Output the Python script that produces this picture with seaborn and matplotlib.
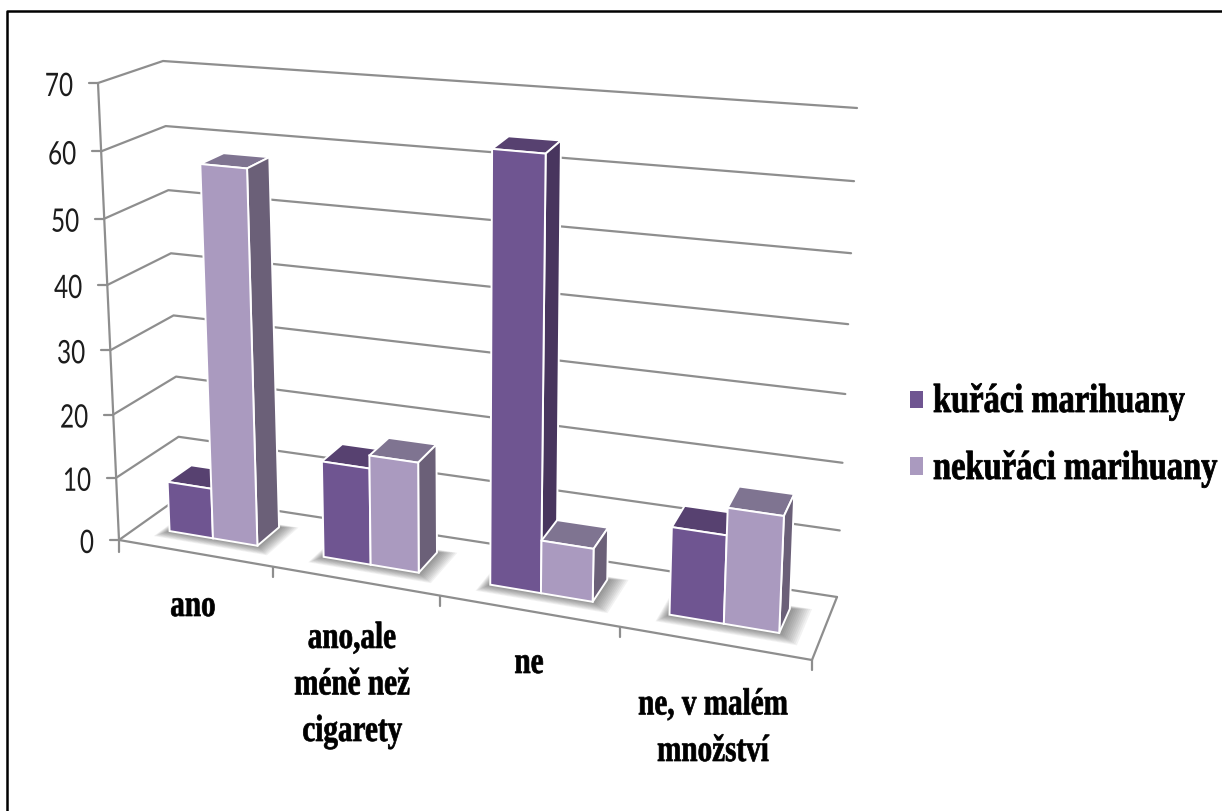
import numpy as np
import pandas as pd
import matplotlib
matplotlib.use("Agg")
import matplotlib.pyplot as plt
import seaborn as sns
from matplotlib.lines import Line2D
from matplotlib.patches import Polygon, Rectangle
from matplotlib.patheffects import AbstractPathEffect
from matplotlib.transforms import Affine2D, IdentityTransform, Transform

# Survey shares in percent
categories = ["ano", "ano,ale\nméně než\ncigarety", "ne", "ne, v malém\nmnožství"]
series_names = ["kuřáci marihuany", "nekuřáci marihuany"]
smokers = [8, 15, 64, 13]
non_smokers = [58, 17, 8, 17]
y_ticks = [0, 10, 20, 30, 40, 50, 60, 70]

FRONT_COLORS = ["#6F5591", "#AA9ABF"]
SIDE_COLORS = ["#48355E", "#6B6078"]
TOP_COLORS = ["#574170", "#7F7491"]
GRID = "#8E8E8E"

W, H = 1222, 812
VMAX = 70.0
N_CAT = len(categories)
GROUP_WIDTH = 0.58

# Corners of the chart box in pixels, keyed (right, top, back)
CORNERS = np.array([
    [[[119, 541], [181, 497]], [[98, 84], [163, 62]]],
    [[[812, 661], [837, 598]], [[836, 147], [857, 109]]],
], dtype=float)
K_U, K_V = 0.148, 0.055
W_FRONT, W_BACK = 0.32, 0.71


def project(x, value, depth):
    """Map category position, value and depth to display coordinates."""
    x, value, depth = np.broadcast_arrays(np.asarray(x, float), np.asarray(value, float), np.asarray(depth, float))
    u = (x + 0.5) / N_CAT
    u = u + K_U * u * (u - 1)
    v = value / VMAX
    v = v + K_V * v * (v - 1)
    pts = np.zeros(x.shape + (2,))
    for i, fu in enumerate((1 - u, u)):
        for j, fv in enumerate((1 - v, v)):
            for k, fw in enumerate((1 - depth, depth)):
                pts += (fu * fv * fw)[..., None] * CORNERS[i, j, k]
    pts[..., 1] = H - pts[..., 1]
    return pts


class DepthPlane(Transform):
    """Perspective view of the (category, value) plane at a fixed depth."""
    input_dims = output_dims = 2
    is_separable = False
    has_inverse = False

    def __init__(self, plane_depth):
        super().__init__()
        self.plane_depth = plane_depth

    def transform_non_affine(self, values):
        values = np.asarray(values)
        return project(values[:, 0], values[:, 1], self.plane_depth)


class Tall(AbstractPathEffect):
    """Stretch glyphs vertically about their baseline, with an optional heavier outline."""

    def __init__(self, factor, stroke=0.0):
        super().__init__()
        self.factor = factor
        self.stroke = stroke

    def draw_path(self, renderer, gc, tpath, affine, rgbFace=None):
        gc0 = renderer.new_gc()
        gc0.copy_properties(gc)
        gc0.set_linewidth(self.stroke)
        gc0.set_foreground(rgbFace)
        renderer.draw_path(gc0, tpath, Affine2D().scale(1, self.factor) + affine, rgbFace)
        gc0.restore()


sns.set_theme(style="white")
fig = plt.figure(figsize=(W / 100, H / 100), dpi=100, facecolor="white")
ax = fig.add_axes([0, 0, 1, 1])

frame = pd.DataFrame({
    "category": categories * 2,
    "series": np.repeat(series_names, N_CAT),
    "value": smokers + non_smokers,
})
sns.barplot(data=frame, x="category", y="value", hue="series", order=categories,
            hue_order=series_names, palette=FRONT_COLORS, width=GROUP_WIDTH, gap=0,
            legend=False, ax=ax, saturation=1)
bars = [p for p in ax.patches if isinstance(p, Rectangle)]
ax.set_axis_off()
disp = IdentityTransform()


def poly(points, **kw):
    fig.add_artist(Polygon(points, closed=True, transform=disp, **kw))


def line(points, **kw):
    points = np.asarray(points)
    kw.setdefault("color", GRID)
    kw.setdefault("lw", 1.6)
    fig.add_artist(Line2D(points[:, 0], points[:, 1], transform=disp, **kw))


# Wall gridlines and the value axis
x0, x1 = -0.5, N_CAT - 0.5
for val in y_ticks:
    line(project([x0, x0, x1], [val] * 3, [0, 1, 1]), zorder=1)
line(project([x0, x0], [0, VMAX], [0, 0]), zorder=1)
line(project([x1, x1, x0], [0, 0, 0], [1, 0, 0]), zorder=1)
for val in y_ticks:
    tip = project(x0, val, 0)
    line([tip + [-9, 0], tip], zorder=1)
    fig.add_artist(plt.Text(tip[0] - 25, tip[1] - 13, str(val), ha="right", va="baseline",
                            family="Lato", fontsize=17.5, color="#1c1c1c",
                            path_effects=[Tall(1.33)], transform=disp))
for x in np.arange(N_CAT) + 0.5:
    tip = project(x, 0, 0)
    line([tip, tip + [0, -10]], zorder=1)
tip = project(x0, 0, 0)
line([tip, tip + [0, -12]], zorder=1)

# Soft shadows on the floor under each bar group
half = GROUP_WIDTH / 2
for c in range(N_CAT):
    for step in range(12):
        e = step / 11
        a, b = c - half - 0.05 * e, c + half + 0.11 * e
        f, g = W_FRONT - 0.14 * e, W_BACK + 0.05 * e
        poly(project([a, b, b, a], [0] * 4, [f, f, g, g]), fc="#2a2a2a", ec="none", alpha=0.06, zorder=2)

# Bars: seaborn supplies each front face, the depth faces follow from its extent
bars_sorted = sorted(bars, key=lambda p: p.get_x())
for i, bar in enumerate(bars_sorted):
    left, right = bar.get_x(), bar.get_x() + bar.get_width()
    top = bar.get_height()
    tone = i % 2
    z = 3 + i
    edge = dict(ec="white", lw=1.4, joinstyle="round", zorder=z)
    poly(project([left, right, right, left], [top] * 4, [W_FRONT, W_FRONT, W_BACK, W_BACK]),
         fc=TOP_COLORS[tone], **edge)
    poly(project([right, right, right, right], [0, top, top, 0], [W_FRONT, W_FRONT, W_BACK, W_BACK]),
         fc=SIDE_COLORS[tone], **edge)
    bar.remove()
    bar.set_facecolor(FRONT_COLORS[tone])
    bar.set_edgecolor("white")
    bar.set_linewidth(1.4)
    bar.set_zorder(z + 0.5)
    fig.add_artist(bar)
    bar.set_transform(DepthPlane(W_FRONT))
    bar.set_clip_on(False)

# Category labels; the anchor is the baseline of the last line
label_pos = [(193, 617), (352, 742), (529, 674), (713, 762)]
for text, (px, py) in zip(categories, label_pos):
    fig.add_artist(plt.Text(px, H - py, text, ha="center", va="baseline", multialignment="center",
                            family="Liberation Serif", weight="bold", fontsize=21, color="black",
                            linespacing=1.93, path_effects=[Tall(1.3, 0.5)], transform=disp))

# Legend
legend_rows = [(392, 409, 413), (458, 476, 480)]
for name, color, (y0, y1, base) in zip(series_names, FRONT_COLORS, legend_rows):
    fig.add_artist(Rectangle((910, H - y1), 13, y1 - y0, fc=color, ec="none", transform=disp))
    fig.add_artist(plt.Text(933, H - base, name, ha="left", va="baseline",
                            family="Liberation Serif", weight="bold", fontsize=23.4, color="black",
                            path_effects=[Tall(1.25, 0.6)], transform=disp))

# Top and left rules of the chart frame
line([[7, H - 812], [7, H - 12], [1222, H - 12]], color="black", lw=1.8, zorder=20)

fig.savefig("out.png", dpi=100)
